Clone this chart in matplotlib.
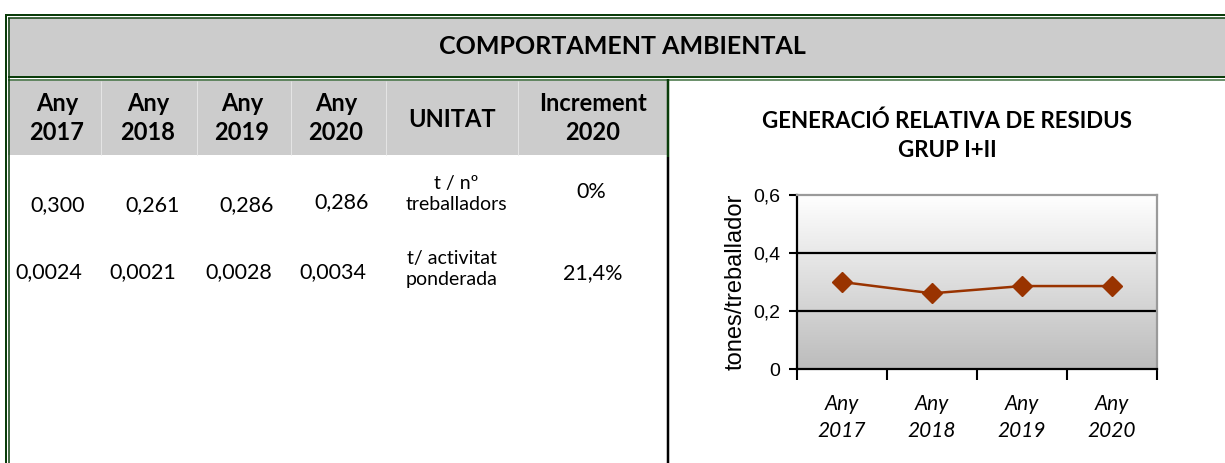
import numpy as np
import matplotlib
matplotlib.use("Agg")
import matplotlib.pyplot as plt
from matplotlib.lines import Line2D
from matplotlib.patches import Rectangle
from matplotlib.colors import LinearSegmentedColormap
from matplotlib.ticker import FuncFormatter

# ---------------- data ----------------
title = "COMPORTAMENT AMBIENTAL"
years = ["2017", "2018", "2019", "2020"]
year_prefix = "Any"
unit_header = "UNITAT"
increment_header = "Increment\n2020"
residus_per_worker = [0.300, 0.261, 0.286, 0.286]
residus_per_activity = [0.0024, 0.0021, 0.0028, 0.0034]
units = ["t / nº\ntreballadors", "t/ activitat\nponderada"]
increments = ["0%", "21,4%"]
chart_title = "GENERACIÓ RELATIVA DE RESIDUS\nGRUP I+II"
y_label = "tones/treballador"
y_ticks = [0, 0.2, 0.4, 0.6]

W, H = 1225, 463
fig = plt.figure(figsize=(W / 100, H / 100), dpi=100)
fig.patch.set_facecolor("white")

FONT = ["Lato", "DejaVu Sans"]
GREEN = "#0b3d0b"


def fx(x):
    return x / W


def fy(y):
    return 1 - y / H


def px2pt(p):
    return p * 0.72


def hline(x0, x1, y, color=GREEN, lw=1.5):
    fig.add_artist(Line2D([fx(x0), fx(x1)], [fy(y), fy(y)], transform=fig.transFigure,
                          color=color, lw=px2pt(lw), solid_capstyle="butt"))


def vline(x, y0, y1, color=GREEN, lw=1.5):
    fig.add_artist(Line2D([fx(x), fx(x)], [fy(y0), fy(y1)], transform=fig.transFigure,
                          color=color, lw=px2pt(lw), solid_capstyle="butt"))


def rect(x0, y0, x1, y1, color):
    fig.add_artist(Rectangle((fx(x0), fy(y1)), fx(x1) - fx(x0), fy(y0) - fy(y1),
                             transform=fig.transFigure, facecolor=color, edgecolor="none"))


def text(x, y, s, size, weight="normal", style="normal", ls=1.25, family=FONT):
    fig.text(fx(x), fy(y), s, ha="center", va="center", fontsize=size, fontweight=weight,
             fontstyle=style, family=family, linespacing=ls, multialignment="center")


# ---------------- frame / bands ----------------
rect(8, 18, W, 76, "#cccccc")
rect(8, 79, 668, 155, "#cccccc")
# faint header cell separators
for xs in [101, 197, 291, 386, 518]:
    vline(xs, 81, 155, color="#e4e4e4", lw=1)

hline(5, W, 15, lw=2)
hline(8, W, 18, lw=1.5)
hline(8, W, 76.5, lw=2)
hline(8, W, 79.5, lw=1.5, color="#3f6f3f")
vline(5.5, 14, H, lw=2)
vline(8.5, 18, H, lw=1.5)
vline(668, 79, 157, lw=2.5)
vline(668, 157, H, color="black", lw=2.5)

# ---------------- table texts ----------------
text(622, 47, title, 18, weight="bold")
header_x = [57, 148, 242, 336]
for x, yr in zip(header_x, years):
    text(x, 118, f"{year_prefix}\n{yr}", 17, weight="bold", ls=1.32)
text(452, 119, unit_header, 17, weight="bold")
text(593, 118, increment_header, 17, weight="bold", ls=1.32)


def fmt(v, d):
    return f"{v:.{d}f}".replace(".", ",")


row1_x = [58, 153, 247, 342]
row1_y = [205, 205, 205, 202]
for x, y, v in zip(row1_x, row1_y, residus_per_worker):
    text(x, y, fmt(v, 3), 15.5)
row2_x = [49, 143, 239, 333]
for x, v in zip(row2_x, residus_per_activity):
    text(x, 272, fmt(v, 4), 15.5)

text(456, 194, units[0], 14, ls=1.3)
text(452, 269, units[1], 14, ls=1.3)
text(591, 192, increments[0], 15.5)
text(593, 273, increments[1], 15.5)

# chart title
text(947, 136, chart_title, 16, weight="bold", ls=1.45)

# ---------------- chart ----------------
ax = fig.add_axes([fx(797), fy(369), fx(1157) - fx(797), fy(195) - fy(369)])
n = len(years)
xpos = np.arange(n)
ax.set_xlim(-0.5, n - 0.5)
ax.set_ylim(y_ticks[0], y_ticks[-1])

cmap = LinearSegmentedColormap.from_list("g", ["#bcbcbc", "#ffffff"])
grad = np.linspace(0, 1, 256)[:, None]
ax.imshow(grad, cmap=cmap, origin="lower", aspect="auto",
          extent=[-0.5, n - 0.5, y_ticks[0], y_ticks[-1]], zorder=0)

for v in y_ticks[1:-1]:
    ax.axhline(v, color="black", lw=1.6, zorder=1)

ax.plot(xpos, residus_per_worker, color="#993300", lw=1.8, marker="D", ms=10,
        mfc="#993300", mec="#993300", zorder=5)

for s in ["left", "bottom"]:
    ax.spines[s].set_color("black")
    ax.spines[s].set_linewidth(1.6)
for s in ["top", "right"]:
    ax.spines[s].set_color("#9a9a9a")
    ax.spines[s].set_linewidth(1.6)

ax.set_yticks(y_ticks)
ax.yaxis.set_major_formatter(FuncFormatter(lambda v, p: fmt(v, 1) if v != 0 else "0"))
ax.tick_params(axis="y", direction="out", length=6, width=1.5, pad=6, labelsize=14)
for lab in ax.get_yticklabels():
    lab.set_family(["Liberation Sans Narrow", "Liberation Sans"])

ax.set_xticks(np.arange(-0.5, n, 1.0))
ax.set_xticklabels([])
ax.tick_params(axis="x", which="major", direction="out", length=8, width=1.5)
ax.set_xticks(xpos, minor=True)
ax.set_xticklabels([f"{year_prefix}\n{yr}" for yr in years], minor=True)
ax.tick_params(axis="x", which="minor", length=0, pad=18, labelsize=15)
for lab in ax.get_xticklabels(minor=True):
    lab.set_family(FONT)
    lab.set_style("italic")
    lab.set_linespacing(1.45)

ax.set_ylabel(y_label, fontsize=17, family=["Liberation Sans"])
ax.yaxis.set_label_coords(-0.139, 0.5)

fig.savefig("out.png", dpi=100)
